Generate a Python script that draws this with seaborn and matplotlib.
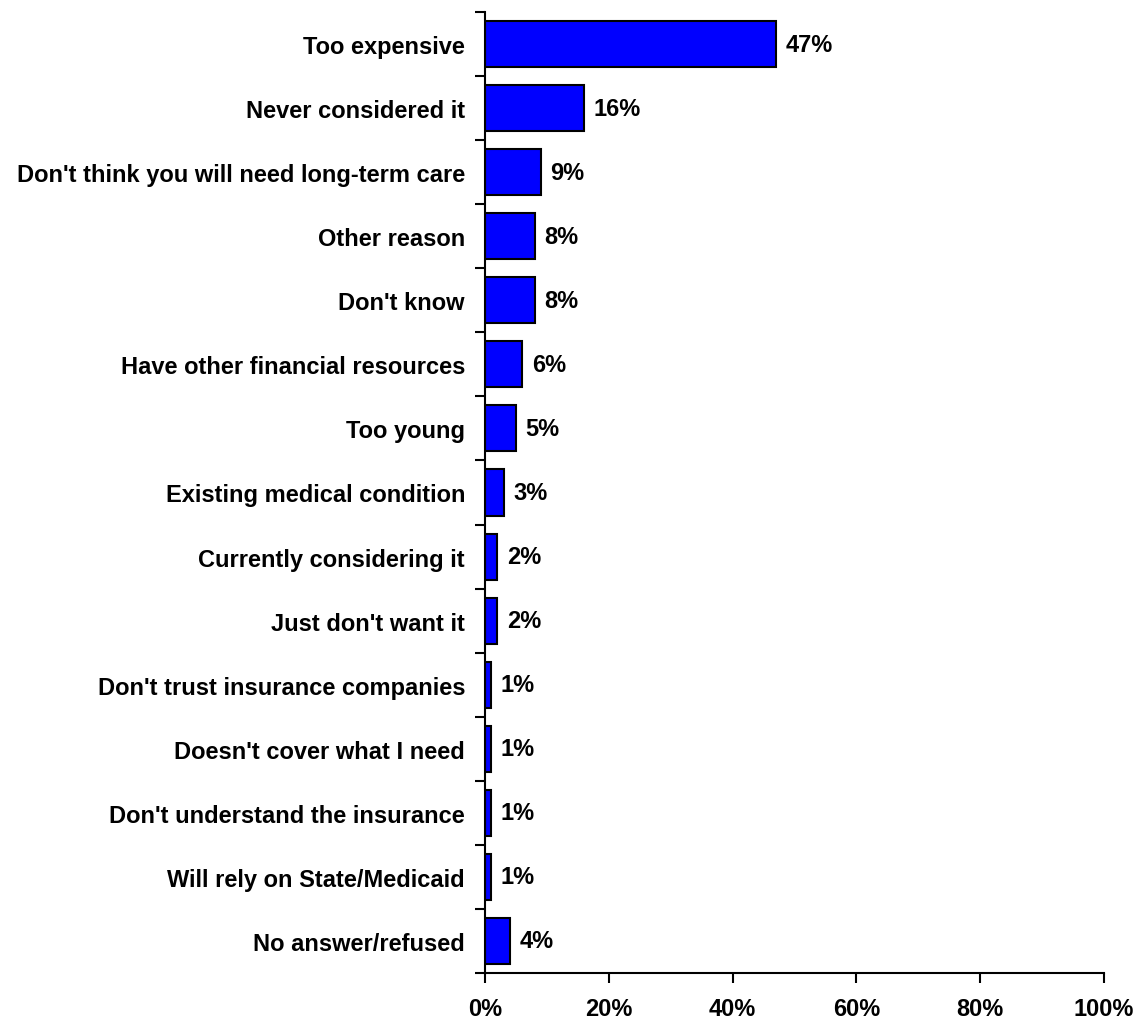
import matplotlib
matplotlib.use("Agg")
import matplotlib.pyplot as plt
import seaborn as sns
import pandas as pd
import numpy as np
from matplotlib.ticker import FixedLocator

categories = [
    "Too expensive",
    "Never considered it",
    "Don't think you will need long-term care",
    "Other reason",
    "Don't know",
    "Have other financial resources",
    "Too young",
    "Existing medical condition",
    "Currently considering it",
    "Just don't want it",
    "Don't trust insurance companies",
    "Doesn't cover what I need",
    "Don't understand the insurance",
    "Will rely on State/Medicaid",
    "No answer/refused",
]
values = [47, 16, 9, 8, 8, 6, 5, 3, 2, 2, 1, 1, 1, 1, 4]
xticks = [0, 20, 40, 60, 80, 100]
xtick_labels = ["0%", "20%", "40%", "60%", "80%", "100%"]

df = pd.DataFrame({"reason": categories, "pct": values})

sns.set_theme(style="white")
plt.rcParams['font.family'] = ['Liberation Sans', 'DejaVu Sans']
plt.rcParams['font.weight'] = 'bold'
plt.rcParams['text.color'] = 'black'
plt.rcParams['xtick.color'] = 'black'
plt.rcParams['ytick.color'] = 'black'
plt.rcParams['axes.labelcolor'] = 'black'

FS = 17

fig = plt.figure(figsize=(11.38, 10.2), dpi=100)
ax = fig.add_axes([485/1138, 46/1020, (1104-485)/1138, (974-13)/1020])

sns.barplot(data=df, x="pct", y="reason", order=categories, color="#0000FF",
            saturation=1, edgecolor="black", linewidth=1.5, width=0.72, ax=ax)

ax.set_xlim(0, 100)
ax.set_ylim(len(categories) - 0.5, -0.5)
ax.set_xticks(xticks)
ax.set_xticklabels(xtick_labels, fontsize=FS, fontweight='bold', color='black')
ax.set_yticks(range(len(categories)))
ax.set_yticklabels(categories, fontsize=FS, fontweight='bold', color='black')
ax.yaxis.set_minor_locator(FixedLocator(np.arange(-0.5, len(categories), 1.0)))
ax.tick_params(axis='y', which='major', length=0, pad=14.4)
ax.tick_params(axis='y', which='minor', length=7, width=1.5, color='black', direction='out', left=True)
ax.tick_params(axis='x', which='major', length=7, width=1.5, color='black', direction='out', pad=10, bottom=True)
ax.set_xlabel("")
ax.set_ylabel("")
for s in ["top", "right"]:
    ax.spines[s].set_visible(False)
for s in ["left", "bottom"]:
    ax.spines[s].set_color("black")
    ax.spines[s].set_linewidth(1.5)

for i, v in enumerate(values):
    ax.annotate(f"{v}%", xy=(v, i), xytext=(7, 0), textcoords="offset points",
                va="center", ha="left", fontsize=FS, fontweight='bold', color='black')

fig.savefig("out.png", dpi=100)
